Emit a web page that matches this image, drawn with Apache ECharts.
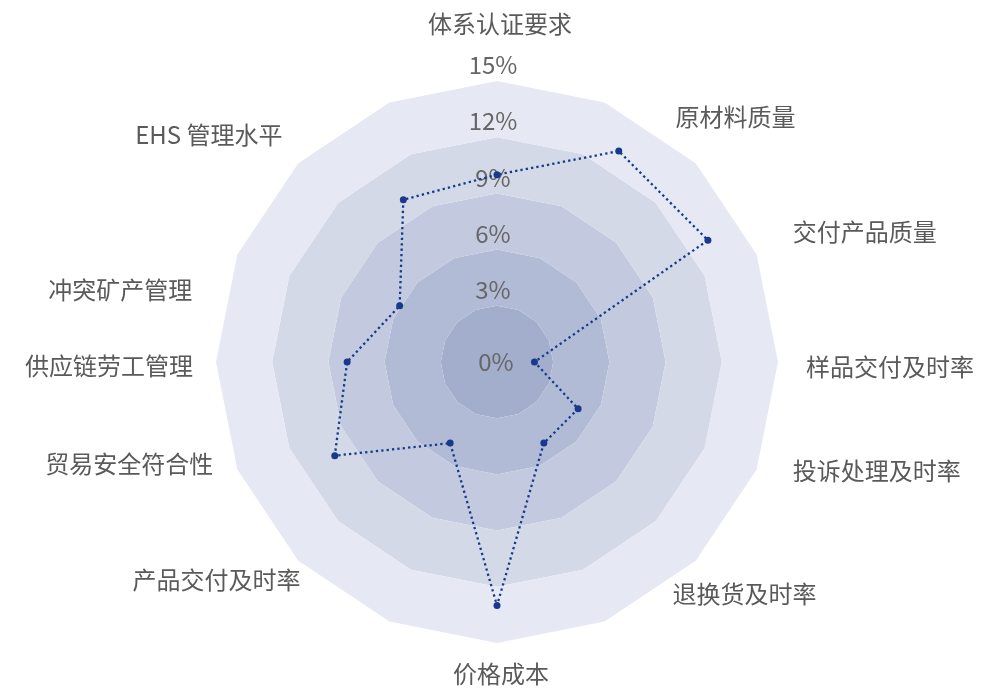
<!DOCTYPE html>
<html>
<head>
<meta charset="utf-8">
<script src="https://cdn.jsdelivr.net/npm/echarts@6/dist/echarts.min.js"></script>
<style>
html,body{margin:0;padding:0;background:#fff;}
#chart{width:994px;height:688px;}
</style>
</head>
<body>
<div id="chart"></div>
<script>
// ---- data (clockwise from top) ----
var indicators = ['体系认证要求', '原材料质量', '交付产品质量', '样品交付及时率', '投诉处理及时率', '退换货及时率', '价格成本', '产品交付及时率', '贸易安全符合性', '供应链劳工管理', '冲突矿产管理', 'EHS 管理水平'];
var scores = [10, 13, 13, 2, 5, 5, 13, 5, 10, 8, 6, 10];
var axisMin = 0;
var axisMax = 15;
var tickStep = 3;

// ---- style ----
var FONT = '"Noto Sans CJK SC", "Noto Sans", sans-serif';
var NAME_COLOR = '#5a5a5a';
var LABEL_COLOR = '#666666';
var ringColors = ['#a3aecc', '#b2bbd6', '#c3c9df', '#d4d9e8', '#e6e9f3'];
var backgroundSides = 16;
// per-name text padding [top, right, bottom, left] (label nudges)
var namePadding = [[0,0,19,6],[42,0,0,25],[47,0,0,30],[9,0,0,2],[0,0,89,30],[0,0,68,22],[0,0,0,8],[0,43,96,0],[0,18,103,0],[8,0,0,0],[163,39,0,0],[78,61,0,0]];
var nameGaps = [26,26,26,26,26,26,19,26,26,23,26,26];

var center = [497, 362];
var radius = 281;
var splitNum = (axisMax - axisMin) / tickStep;

// ECharts lays radar axes counter-clockwise; reorder so the result reads clockwise
var order = [0];
for (var k = indicators.length - 1; k >= 1; k--) order.push(k);

var bgIndicators = [];
for (var i = 0; i < backgroundSides; i++) bgIndicators.push({ name: '', min: axisMin, max: axisMax });

var nameRich = {};
indicators.forEach(function (n, i) {
  nameRich['p' + i] = { fontSize: 24, color: NAME_COLOR, fontFamily: FONT, padding: namePadding[i] };
});

var dataIndicators = order.map(function (i) {
  var ind = { name: indicators[i], min: axisMin, max: axisMax, nameGap: nameGaps[i] };
  if (i === 0) ind.axisLabel = { show: true };
  return ind;
});
var orderedScores = order.map(function (i) { return scores[i]; });

var chart = echarts.init(document.getElementById('chart'));
chart.setOption({
  backgroundColor: '#ffffff',
  animation: false,
  textStyle: { fontFamily: FONT },
  radar: [
    {
      center: center, radius: radius, startAngle: 90, shape: 'polygon',
      splitNumber: splitNum,
      indicator: bgIndicators,
      axisName: { show: false },
      axisLine: { show: false },
      axisTick: { show: false },
      axisLabel: { show: false },
      splitLine: { show: false },
      splitArea: { show: true, areaStyle: { color: ringColors } }
    },
    {
      center: center, radius: radius, startAngle: 90, shape: 'polygon',
      splitNumber: splitNum,
      indicator: dataIndicators,
      axisNameGap: 26,
      axisName: {
        show: true, color: NAME_COLOR, fontSize: 24, fontFamily: FONT,
        formatter: function (name) {
          var idx = indicators.indexOf(name);
          return '{p' + idx + '|' + name + '}';
        },
        rich: nameRich
      },
      axisLine: { show: false },
      axisTick: { show: false },
      splitLine: { show: false },
      splitArea: { show: false },
      axisLabel: {
        show: false,
        margin: 0,
        align: 'center',
        verticalAlign: 'middle',
        color: LABEL_COLOR,
        fontSize: 24,
        fontFamily: FONT,
        formatter: function (v) {
          return v === 0 ? '{z|' + v + '%}' : '{n|' + v + '%}';
        },
        rich: {
          z: { fontSize: 24, color: LABEL_COLOR, fontFamily: FONT, padding: [0, 2, 0, 0] },
          n: { fontSize: 24, color: LABEL_COLOR, fontFamily: FONT, padding: [0, 8, 32, 0] }
        }
      }
    }
  ],
  series: [{
    type: 'radar',
    radarIndex: 1,
    symbol: 'circle',
    symbolSize: 7,
    lineStyle: { color: '#173a8c', width: 2.3, type: [2.3, 3.1] },
    itemStyle: { color: '#173a8c' },
    data: [{ value: orderedScores, name: '评分' }]
  }]
});
</script>
</body>
</html>
